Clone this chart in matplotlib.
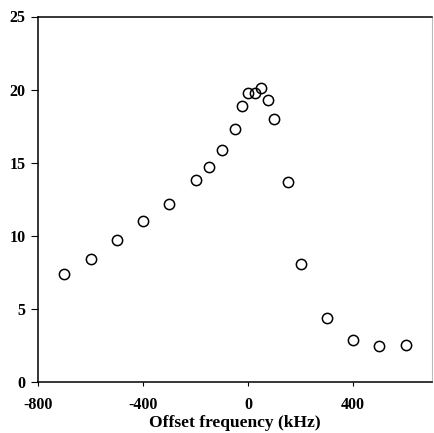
import matplotlib.pyplot as plt
import numpy as np

offset_khz = [-700, -600, -500, -400, -300, -200, -150, -100, -50, -25,
              0, 25, 50, 75, 100, 150, 200, 300, 400, 500, 600]
signal = [7.4, 8.4, 9.7, 11.0, 12.2, 13.85, 14.7, 15.9, 17.3, 18.85,
          19.75, 19.8, 20.1, 19.3, 18.0, 13.65, 8.1, 4.35, 2.9, 2.45, 2.5]
assert len(offset_khz) == len(signal)

x_ticks = [-800, -400, 0, 400]
y_ticks = [0, 5, 10, 15, 20, 25]

plt.rcParams['font.family'] = ['Liberation Serif', 'DejaVu Serif']
plt.rcParams['font.weight'] = 'bold'
plt.rcParams['axes.unicode_minus'] = False

fig = plt.figure(figsize=(4.34, 4.33), dpi=100)
ax = fig.add_axes([38 / 434, 1 - 382 / 433, 394 / 434, 365.5 / 433])

ax.plot(offset_khz, signal, linestyle='none', marker='o', markersize=7.4,
        markerfacecolor='none', markeredgecolor='black', markeredgewidth=1.1)

ax.set_xlim(-800, 700)
ax.set_ylim(0, 25)
ax.set_xticks(x_ticks)
ax.set_yticks(y_ticks)
ax.tick_params(axis='x', direction='out', length=3, width=0.8, pad=8,
               labelsize=11.5)
ax.tick_params(axis='y', direction='out', length=5, width=0.8, pad=4,
               labelsize=11.5)
for lbl in ax.get_xticklabels() + ax.get_yticklabels():
    lbl.set_fontweight('bold')

for side in ['left', 'bottom', 'top']:
    ax.spines[side].set_linewidth(1.1)
    ax.spines[side].set_color('black')
ax.spines['right'].set_color('#bbbbbb')
ax.spines['right'].set_linewidth(0.8)

ax.set_xlabel("Offset frequency (kHz)", fontsize=12.5, fontweight='bold',
              labelpad=1)

plt.savefig("out.png", dpi=100)
